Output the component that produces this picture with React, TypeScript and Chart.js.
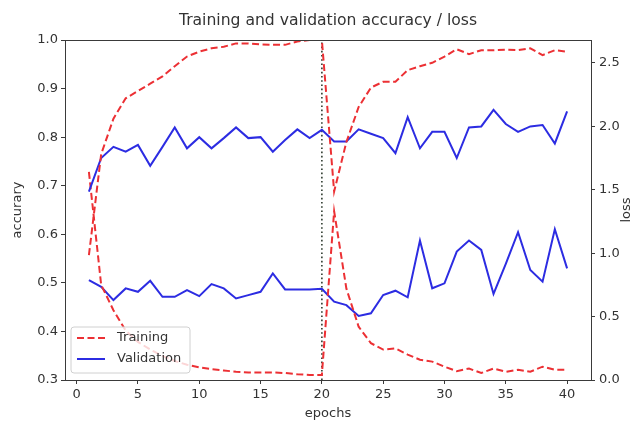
import { useEffect, useRef } from 'react';
import { Chart, registerables } from 'chart.js';

Chart.register(...registerables);

const epochs = [1, 2, 3, 4, 5, 6, 7, 8, 9, 10, 11, 12, 13, 14, 15, 16, 17, 18, 19, 20,
  21, 22, 23, 24, 25, 26, 27, 28, 29, 30, 31, 32, 33, 34, 35, 36, 37, 38, 39, 40];

const trainAcc = [0.557, 0.765, 0.838, 0.88, 0.895, 0.91, 0.925, 0.946, 0.966, 0.976,
  0.983, 0.986, 0.993, 0.993, 0.991, 0.99, 0.99, 0.997, 1.0, 1.0,
  0.688, 0.79, 0.862, 0.902, 0.914, 0.914, 0.938, 0.946, 0.953, 0.966,
  0.981, 0.971, 0.979, 0.979, 0.98, 0.979, 0.983, 0.969, 0.979, 0.976];

const valAcc = [0.688, 0.757, 0.78, 0.77, 0.784, 0.741, 0.78, 0.82, 0.777, 0.8,
  0.777, 0.798, 0.82, 0.798, 0.8, 0.77, 0.794, 0.816, 0.798, 0.815,
  0.791, 0.791, 0.816, 0.807, 0.798, 0.767, 0.841, 0.777, 0.811, 0.811,
  0.757, 0.82, 0.822, 0.856, 0.827, 0.811, 0.822, 0.825, 0.787, 0.853];

const trainLoss = [1.64, 0.75, 0.55, 0.39, 0.3, 0.24, 0.19, 0.15, 0.12, 0.1,
  0.085, 0.075, 0.065, 0.06, 0.06, 0.06, 0.055, 0.045, 0.04, 0.04,
  1.33, 0.72, 0.42, 0.29, 0.24, 0.25, 0.2, 0.16, 0.145, 0.105,
  0.07, 0.09, 0.055, 0.09, 0.065, 0.08, 0.065, 0.105, 0.08, 0.08];

const valLoss = [0.787, 0.735, 0.63, 0.722, 0.695, 0.782, 0.656, 0.656, 0.709, 0.661,
  0.756, 0.722, 0.643, 0.669, 0.695, 0.84, 0.714, 0.714, 0.714, 0.719,
  0.618, 0.59, 0.505, 0.526, 0.67, 0.704, 0.652, 1.099, 0.723, 0.762,
  1.012, 1.099, 1.025, 0.678, 0.915, 1.165, 0.867, 0.775, 1.188, 0.88];

const splitEpoch = [20];
const xTicks = [0, 5, 10, 15, 20, 25, 30, 35, 40];
const accTicks = [0.3, 0.4, 0.5, 0.6, 0.7, 0.8, 0.9, 1.0];
const lossTicks = [0, 0.5, 1.0, 1.5, 2.0, 2.5];
const xRange = [-0.95, 41.95];
const accRange = [0.3, 1.0];
const lossRange = [0, 2.68];

const titleText = 'Training and validation accuracy / loss';
const legendLabels = ['Training', 'Validation'];

const RED = 'rgb(236,48,52)';
const BLUE = 'rgb(44,44,226)';
const TEXT = '#333';
const FONT = '"DejaVu Sans", sans-serif';

export default function App() {
  const ref = useRef<HTMLCanvasElement>(null);

  useEffect(() => {
    const pts = (ys: number[]) => epochs.map((e, i) => ({ x: e, y: ys[i] }));

    const decor = {
      id: 'decor',
      afterDraw(chart: any) {
        const { ctx, chartArea: a } = chart;
        ctx.save();
        // frame
        ctx.strokeStyle = '#3a3a3a';
        ctx.lineWidth = 1;
        ctx.strokeRect(a.left + 0.5, a.top + 0.5, a.right - a.left, a.bottom - a.top);
        // title
        ctx.fillStyle = TEXT;
        ctx.font = `15.6px ${FONT}`;
        ctx.textAlign = 'center';
        ctx.textBaseline = 'middle';
        ctx.fillText(titleText, (a.left + a.right) / 2, 21);
        // right axis label
        ctx.font = `13px ${FONT}`;
        ctx.translate(627, (a.top + a.bottom) / 2);
        ctx.rotate(-Math.PI / 2);
        ctx.fillText('loss', 0, 0);
        ctx.restore();

        // legend
        ctx.save();
        const bx = 71, by = 327, bw = 119, bh = 46, r = 3;
        ctx.beginPath();
        ctx.moveTo(bx + r, by);
        ctx.lineTo(bx + bw - r, by);
        ctx.quadraticCurveTo(bx + bw, by, bx + bw, by + r);
        ctx.lineTo(bx + bw, by + bh - r);
        ctx.quadraticCurveTo(bx + bw, by + bh, bx + bw - r, by + bh);
        ctx.lineTo(bx + r, by + bh);
        ctx.quadraticCurveTo(bx, by + bh, bx, by + bh - r);
        ctx.lineTo(bx, by + r);
        ctx.quadraticCurveTo(bx, by, bx + r, by);
        ctx.closePath();
        ctx.fillStyle = 'rgba(255,255,255,0.8)';
        ctx.fill();
        ctx.strokeStyle = '#d0d0d0';
        ctx.lineWidth = 1;
        ctx.stroke();

        const rows = [
          { y: 338, color: RED, dash: [7, 3.5], label: legendLabels[0] },
          { y: 359, color: BLUE, dash: [], label: legendLabels[1] },
        ];
        rows.forEach((row) => {
          ctx.beginPath();
          ctx.setLineDash(row.dash);
          ctx.strokeStyle = row.color;
          ctx.lineWidth = 2;
          ctx.moveTo(77, row.y);
          ctx.lineTo(105, row.y);
          ctx.stroke();
          ctx.setLineDash([]);
          ctx.fillStyle = TEXT;
          ctx.font = `13px ${FONT}`;
          ctx.textAlign = 'left';
          ctx.textBaseline = 'middle';
          ctx.fillText(row.label, 117, row.y);
        });
        ctx.restore();
      },
    };

    const tickFont = { family: FONT, size: 13 };

    const chart = new Chart(ref.current!, {
      type: 'line',
      data: {
        datasets: [
          {
            label: 'Training accuracy',
            data: pts(trainAcc),
            yAxisID: 'yAcc',
            borderColor: RED,
            borderDash: [7, 3.5],
            borderWidth: 2,
            pointRadius: 0,
            tension: 0,
          },
          {
            label: 'Validation accuracy',
            data: pts(valAcc),
            yAxisID: 'yAcc',
            borderColor: BLUE,
            borderWidth: 2,
            pointRadius: 0,
            tension: 0,
          },
          {
            label: 'Training loss',
            data: pts(trainLoss),
            yAxisID: 'yLoss',
            borderColor: RED,
            borderDash: [7, 3.5],
            borderWidth: 2,
            pointRadius: 0,
            tension: 0,
          },
          {
            label: 'Validation loss',
            data: pts(valLoss),
            yAxisID: 'yLoss',
            borderColor: BLUE,
            borderWidth: 2,
            pointRadius: 0,
            tension: 0,
          },
          {
            label: 'split',
            data: [
              { x: splitEpoch[0], y: accRange[0] },
              { x: splitEpoch[0], y: accRange[1] },
            ],
            yAxisID: 'yAcc',
            borderColor: '#2f3b2f',
            borderDash: [1.6, 2.6],
            borderWidth: 1.6,
            pointRadius: 0,
          },
        ],
      },
      options: {
        responsive: false,
        animation: false,
        devicePixelRatio: 1,
        layout: { padding: { top: 40, left: 0, right: 0, bottom: 0 } },
        plugins: {
          legend: { display: false },
          title: { display: false },
          tooltip: { enabled: false },
        },
        scales: {
          x: {
            type: 'linear',
            position: 'bottom',
            min: xRange[0],
            max: xRange[1],
            afterBuildTicks: (s: any) => {
              s.ticks = xTicks.map((v) => ({ value: v }));
            },
            afterFit: (s: any) => {
              s.height = 43;
            },
            ticks: {
              font: tickFont,
              color: TEXT,
              padding: 3,
              maxRotation: 0,
              autoSkip: false,
              callback: (v: any) => String(v),
            },
            grid: { display: true, drawOnChartArea: false, drawTicks: true, tickLength: 4, color: '#3a3a3a' },
            border: { display: false },
            title: {
              display: true,
              text: 'epochs',
              color: TEXT,
              font: tickFont,
              padding: { top: 0, bottom: 2 },
            },
          },
          yAcc: {
            type: 'linear',
            position: 'left',
            min: accRange[0],
            max: accRange[1],
            afterBuildTicks: (s: any) => {
              s.ticks = accTicks.map((v) => ({ value: v }));
            },
            afterFit: (s: any) => {
              s.width = 65;
            },
            ticks: {
              font: tickFont,
              color: TEXT,
              padding: 3,
              callback: (v: any) => Number(v).toFixed(1),
            },
            grid: { display: true, drawOnChartArea: false, drawTicks: true, tickLength: 4, color: '#3a3a3a' },
            border: { display: false },
            title: {
              display: true,
              text: 'accurary',
              color: TEXT,
              font: tickFont,
              padding: { top: 10, bottom: 0 },
            },
          },
          yLoss: {
            type: 'linear',
            position: 'right',
            min: lossRange[0],
            max: lossRange[1],
            afterBuildTicks: (s: any) => {
              s.ticks = lossTicks.map((v) => ({ value: v }));
            },
            afterFit: (s: any) => {
              s.width = 50;
            },
            ticks: {
              font: tickFont,
              color: TEXT,
              padding: 4,
              callback: (v: any) => Number(v).toFixed(1),
            },
            grid: { display: true, drawOnChartArea: false, drawTicks: true, tickLength: 4, color: '#3a3a3a' },
            border: { display: false },
          },
        },
      },
      plugins: [decor],
    });
    return () => chart.destroy();
  }, []);

  return (
    <div style={{ position: 'absolute', left: 0, top: 0, width: 641, height: 423, background: '#fff' }}>
      <canvas ref={ref} width={641} height={423} style={{ display: 'block' }} />
    </div>
  );
}
